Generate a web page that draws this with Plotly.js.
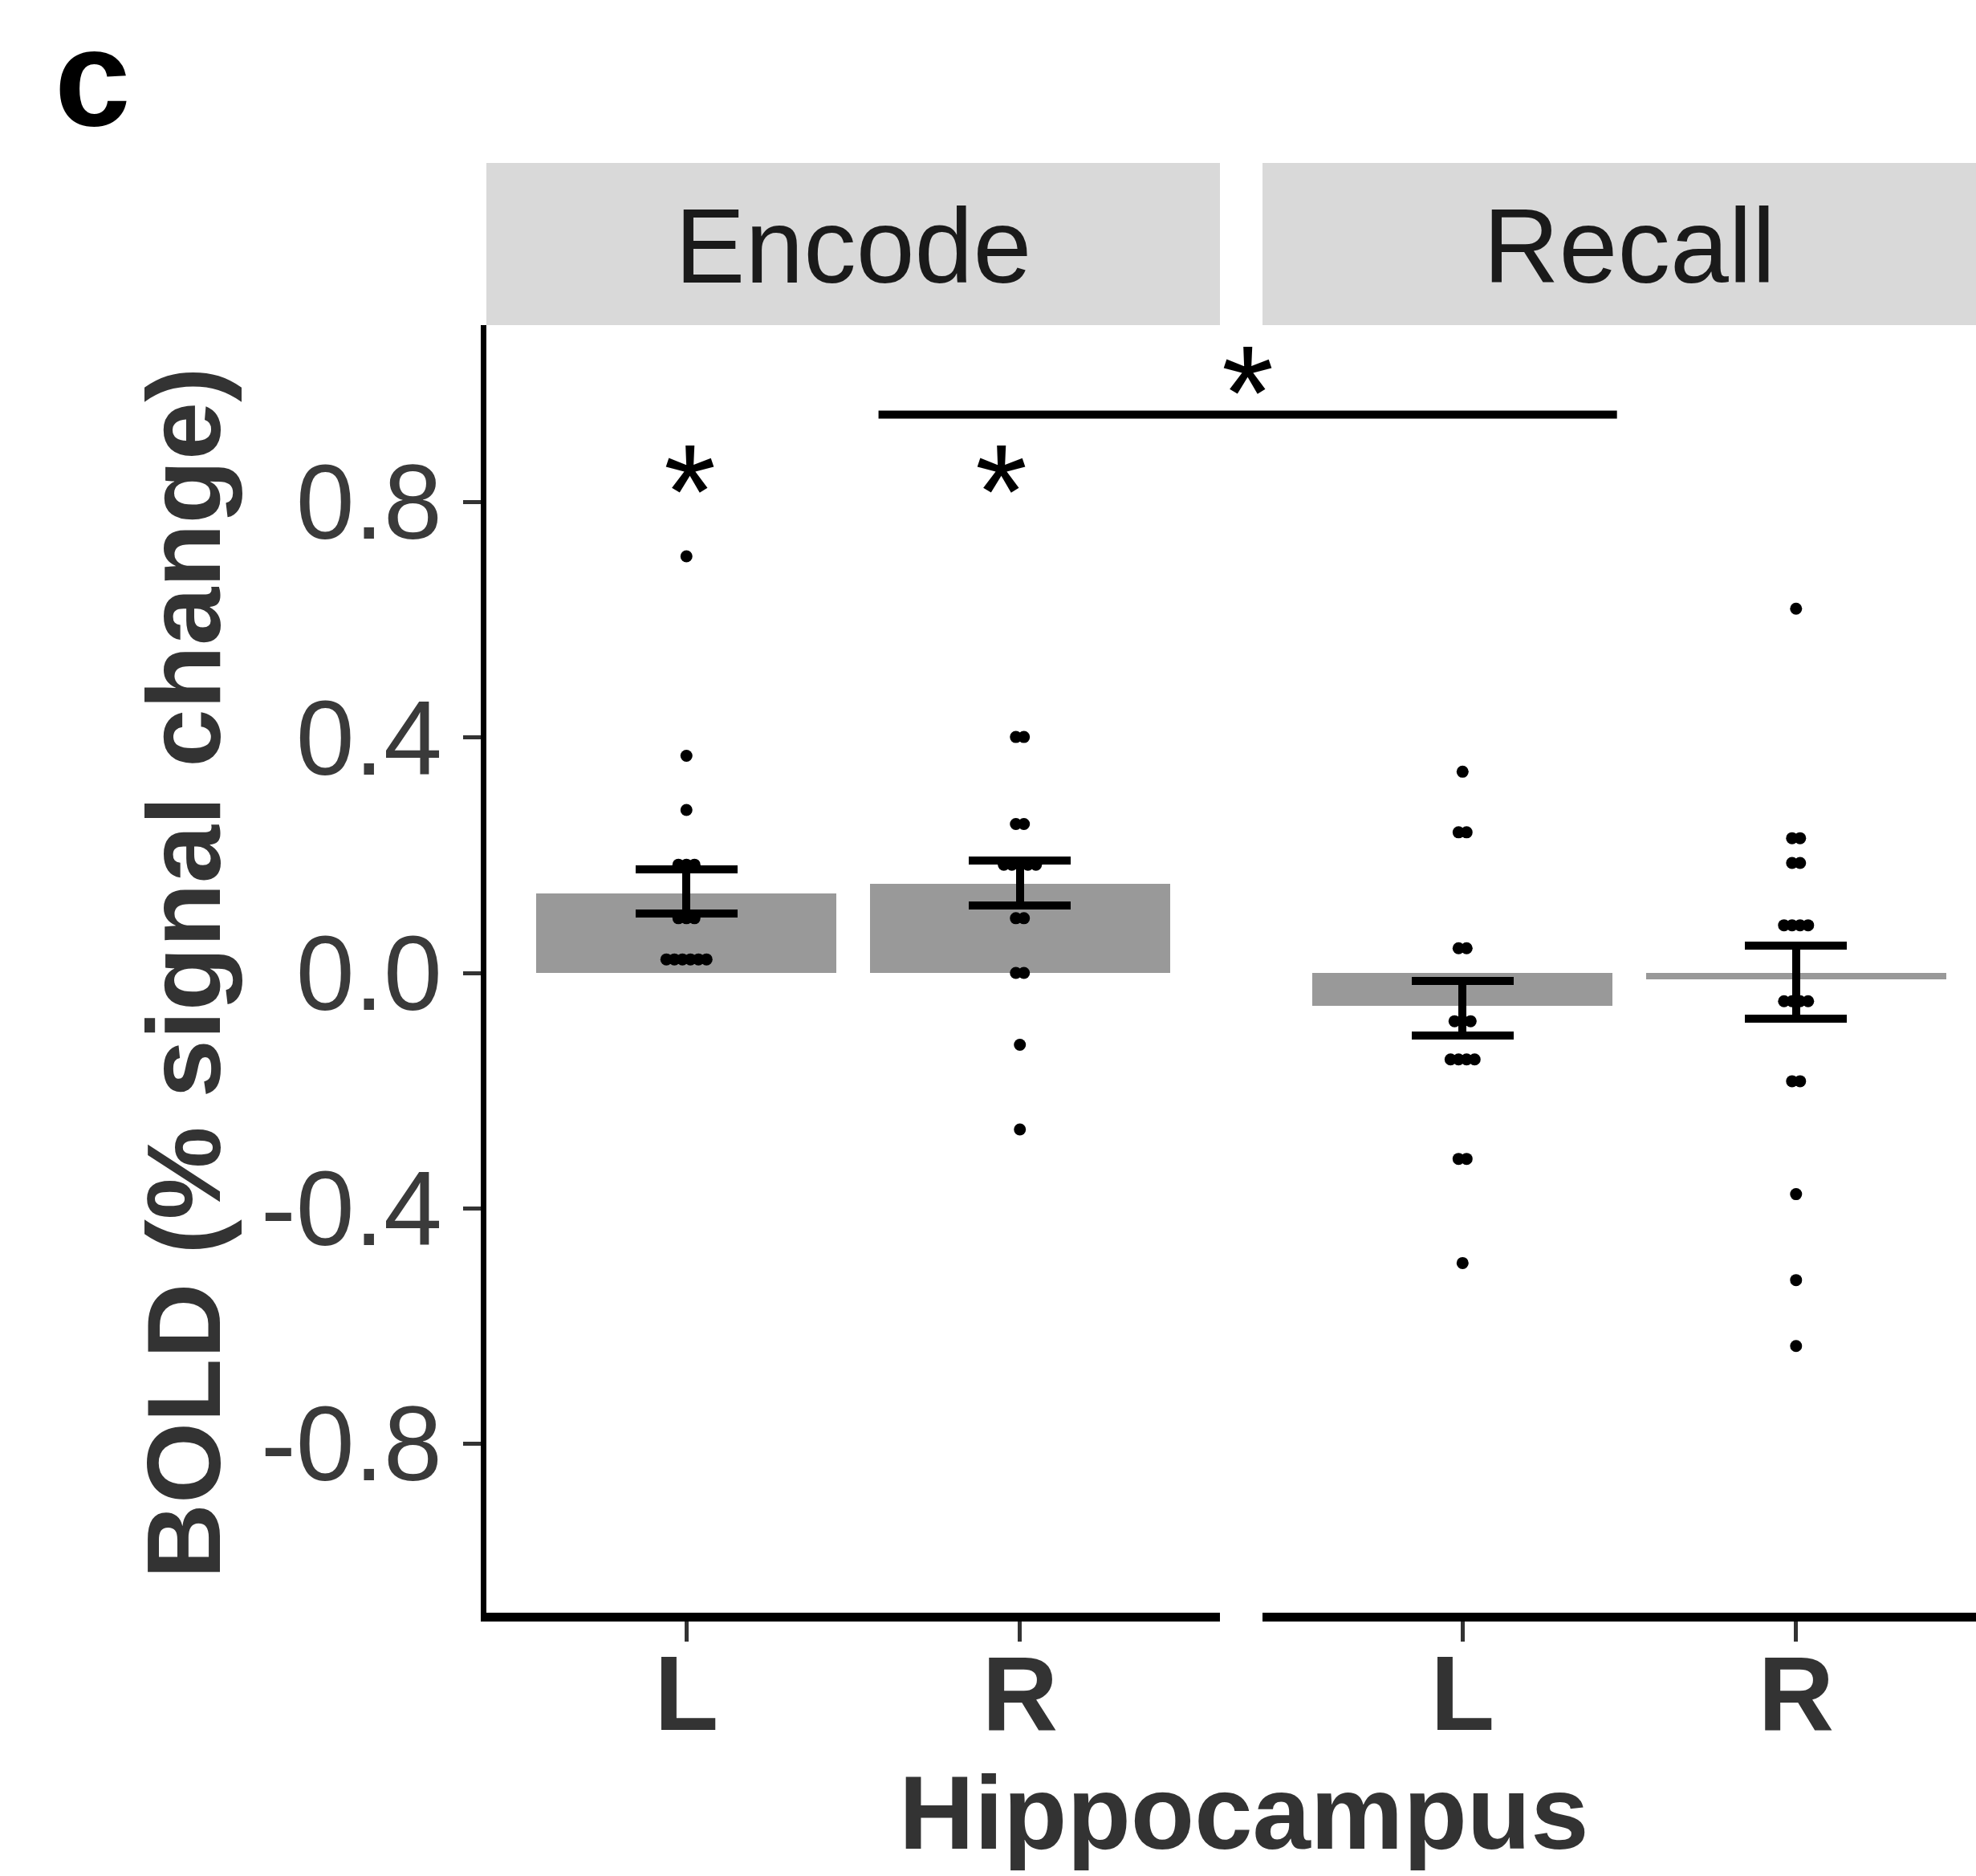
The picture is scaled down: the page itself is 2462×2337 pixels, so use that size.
<!DOCTYPE html>
<html>
<head>
<meta charset="utf-8">
<script src="https://cdn.plot.ly/plotly-3.0.1.min.js"></script>
<style>html,body{margin:0;padding:0;background:#fff;}#chart{width:2462px;height:2337px;}</style>
</head>
<body>
<div id="chart"></div>
<script>
// ---------------- data ----------------
const hemispheres = ['L', 'R'];
const phases = ['Encode', 'Recall'];

const meanEncode = [0.135, 0.152];
const meanRecall = [-0.056, -0.011];

const errTopEncode = [0.176, 0.191];
const errBottomEncode = [0.101, 0.114];
const errTopRecall = [-0.013, 0.047];
const errBottomRecall = [-0.106, -0.078];

const pointsEncodeL = [0.708, 0.369, 0.277, 0.184, 0.184, 0.184, 0.093, 0.093, 0.093, 0.023, 0.023, 0.023, 0.023, 0.023, 0.023];
const pointsEncodeR = [0.401, 0.401, 0.253, 0.253, 0.184, 0.184, 0.184, 0.184, 0.184, 0.093, 0.093, 0.0, 0.0, -0.122, -0.266];
const pointsRecallL = [0.342, 0.239, 0.239, 0.042, 0.042, -0.082, -0.082, -0.082, -0.147, -0.147, -0.147, -0.147, -0.316, -0.316, -0.493];
const pointsRecallR = [0.619, 0.229, 0.229, 0.187, 0.187, 0.081, 0.081, 0.081, 0.081, -0.048, -0.048, -0.048, -0.048, -0.184, -0.184, -0.376, -0.522, -0.634];

const yTickVals = [-0.8, -0.4, 0.0, 0.4, 0.8];
const yTickText = ['-0.8', '-0.4', '0.0', '0.4', '0.8'];

// significance markers
const starEncodeX = [1.01, 1.945];   // panel Encode, x positions
const starEncodeY = [0.848, 0.848];
const bracketStart = {panel: 'Encode', x: 1.576};
const bracketEnd = {panel: 'Recall', x: 1.463};
const bracketY = 0.949;
const bracketStarY = 1.016;

// ---------------- layout geometry ----------------
const W = 2462, H = 2337;
const margin = {l: 606, r: 0, t: 405, b: 328};
const plotW = W - margin.l - margin.r;
const plotH = H - margin.t - margin.b;
const pxPerUnit = 415.5;
const dom1 = [0, 914 / plotW];
const dom2 = [967 / plotW, 1];
const range1 = [0.4, 2.6];
const range2 = [0.4, 0.4 + (dom2[1] - dom2[0]) * plotW / pxPerUnit];
const yRange = [-1.0873, 1.101];

function paperX(dom, rng, v) { return dom[0] + (v - rng[0]) / (rng[1] - rng[0]) * (dom[1] - dom[0]); }
function pxToPaperX(px) { return (px - margin.l) / plotW; }
function pxToPaperY(px) { return (margin.t + plotH - px) / plotH; }

// dotplot-style horizontal stacking of equal values
const dotSpacing = 10 / pxPerUnit;
function stackPoints(values, centerX) {
  const counts = {}, seen = {};
  values.forEach(v => { counts[v] = (counts[v] || 0) + 1; });
  return values.map(v => {
    const k = seen[v] || 0; seen[v] = k + 1;
    return centerX + (k - (counts[v] - 1) / 2) * dotSpacing;
  });
}

const xNum = hemispheres.map((h, i) => i + 1);
function errPlus(mean, top) { return mean.map((m, i) => top[i] - m); }
function errMinus(mean, bot) { return mean.map((m, i) => m - bot[i]); }

const barStyle = {color: '#999999'};
const errStyle = {color: '#000000', thickness: 10, width: 63.5};

const traces = [
  {type: 'bar', x: xNum, y: meanEncode, width: 0.9, marker: barStyle, xaxis: 'x', yaxis: 'y',
   error_y: Object.assign({type: 'data', symmetric: false, array: errPlus(meanEncode, errTopEncode), arrayminus: errMinus(meanEncode, errBottomEncode)}, errStyle),
   hoverinfo: 'skip'},
  {type: 'bar', x: xNum, y: meanRecall, width: 0.9, marker: barStyle, xaxis: 'x2', yaxis: 'y',
   error_y: Object.assign({type: 'data', symmetric: false, array: errPlus(meanRecall, errTopRecall), arrayminus: errMinus(meanRecall, errBottomRecall)}, errStyle),
   hoverinfo: 'skip'}
];

const dotMarker = {color: '#000000', size: 15, line: {width: 0}};
[[pointsEncodeL, 1, 'x'], [pointsEncodeR, 2, 'x'], [pointsRecallL, 1, 'x2'], [pointsRecallR, 2, 'x2']].forEach(([vals, cx, xa]) => {
  traces.push({type: 'scatter', mode: 'markers', x: stackPoints(vals, cx), y: vals, marker: dotMarker,
    xaxis: xa, yaxis: 'y', cliponaxis: false, hoverinfo: 'skip'});
});

const tickFontY = {family: 'Liberation Sans, Arial, sans-serif', size: 131, color: '#3a3a3a'};
const tickFontX = {family: 'Liberation Sans, Arial, sans-serif', size: 131, color: '#333333', weight: 'bold'};

const xAxisCommon = {
  tickmode: 'array', tickvals: xNum, ticktext: hemispheres, tickfont: tickFontX,
  ticks: 'outside', ticklen: 25, tickwidth: 5, tickcolor: '#333333', ticklabelstandoff: -47,
  showline: true, linewidth: 11, linecolor: '#000000', showgrid: false, zeroline: false, fixedrange: true
};

const starFont = {family: 'Liberation Sans, Arial, sans-serif', size: 167, color: '#000000'};
const starShift = -0.13 * starFont.size;

const annotations = [];
phases.forEach((p, i) => {
  const dom = i === 0 ? dom1 : dom2;
  const rng = i === 0 ? range1 : range2;
  annotations.push({text: p, xref: 'paper', yref: 'paper', x: paperX(dom, rng, 1.5), y: pxToPaperY(307),
    xanchor: 'center', yanchor: 'middle', showarrow: false,
    font: {family: 'Liberation Sans, Arial, sans-serif', size: 131, color: '#1a1a1a'}});
});
starEncodeX.forEach((sx, i) => {
  annotations.push({text: '*', xref: 'x', yref: 'y', x: sx, y: starEncodeY[i], xanchor: 'center', yanchor: 'middle',
    yshift: starShift, showarrow: false, font: starFont});
});
const bx0 = paperX(dom1, range1, bracketStart.x);
const bx1 = paperX(dom2, range2, bracketEnd.x);
annotations.push({text: '*', xref: 'paper', yref: 'y', x: (bx0 + bx1) / 2, y: bracketStarY, xanchor: 'center', yanchor: 'middle',
  yshift: starShift, showarrow: false, font: starFont});
annotations.push({text: 'BOLD (% signal change)', xref: 'paper', yref: 'paper', x: pxToPaperX(229), y: pxToPaperY(1212),
  textangle: -90, xanchor: 'center', yanchor: 'middle', showarrow: false,
  font: {family: 'Liberation Sans, Arial, sans-serif', size: 130, color: '#333333', weight: 'bold'}});
annotations.push({text: 'Hippocampus', xref: 'paper', yref: 'paper', x: pxToPaperX(1550), y: pxToPaperY(2258),
  xanchor: 'center', yanchor: 'middle', showarrow: false,
  font: {family: 'Liberation Sans, Arial, sans-serif', size: 130, color: '#333333', weight: 'bold'}});
annotations.push({text: 'c', xref: 'paper', yref: 'paper', x: pxToPaperX(66), y: pxToPaperY(97),
  xanchor: 'left', yanchor: 'middle', showarrow: false,
  font: {family: 'Liberation Sans, Arial, sans-serif', size: 170, color: '#000000', weight: 'bold'}});

const shapes = [
  {type: 'rect', xref: 'paper', yref: 'paper', x0: dom1[0], x1: dom1[1], y0: pxToPaperY(405), y1: pxToPaperY(203), fillcolor: '#d9d9d9', line: {width: 0}, layer: 'below'},
  {type: 'rect', xref: 'paper', yref: 'paper', x0: dom2[0], x1: dom2[1], y0: pxToPaperY(405), y1: pxToPaperY(203), fillcolor: '#d9d9d9', line: {width: 0}, layer: 'below'},
  {type: 'line', xref: 'paper', yref: 'y', x0: bx0, x1: bx1, y0: bracketY, y1: bracketY, line: {color: '#000000', width: 10}}
];

const layout = {
  width: W, height: H, autosize: false,
  margin: margin,
  paper_bgcolor: '#ffffff', plot_bgcolor: '#ffffff',
  showlegend: false, bargap: 0,
  xaxis: Object.assign({domain: dom1, range: range1, anchor: 'y'}, xAxisCommon),
  xaxis2: Object.assign({domain: dom2, range: range2, anchor: 'y'}, xAxisCommon),
  yaxis: {domain: [0, 1], range: yRange, anchor: 'x', tickmode: 'array', tickvals: yTickVals, ticktext: yTickText,
    tickfont: tickFontY, ticks: 'outside', ticklen: 22, tickwidth: 5, tickcolor: '#333333',
    showline: true, linewidth: 7, linecolor: '#000000', showgrid: false, zeroline: false, fixedrange: true},
  annotations: annotations,
  shapes: shapes
};

Plotly.newPlot('chart', traces, layout, {displayModeBar: false, staticPlot: true});
</script>
</body>
</html>
